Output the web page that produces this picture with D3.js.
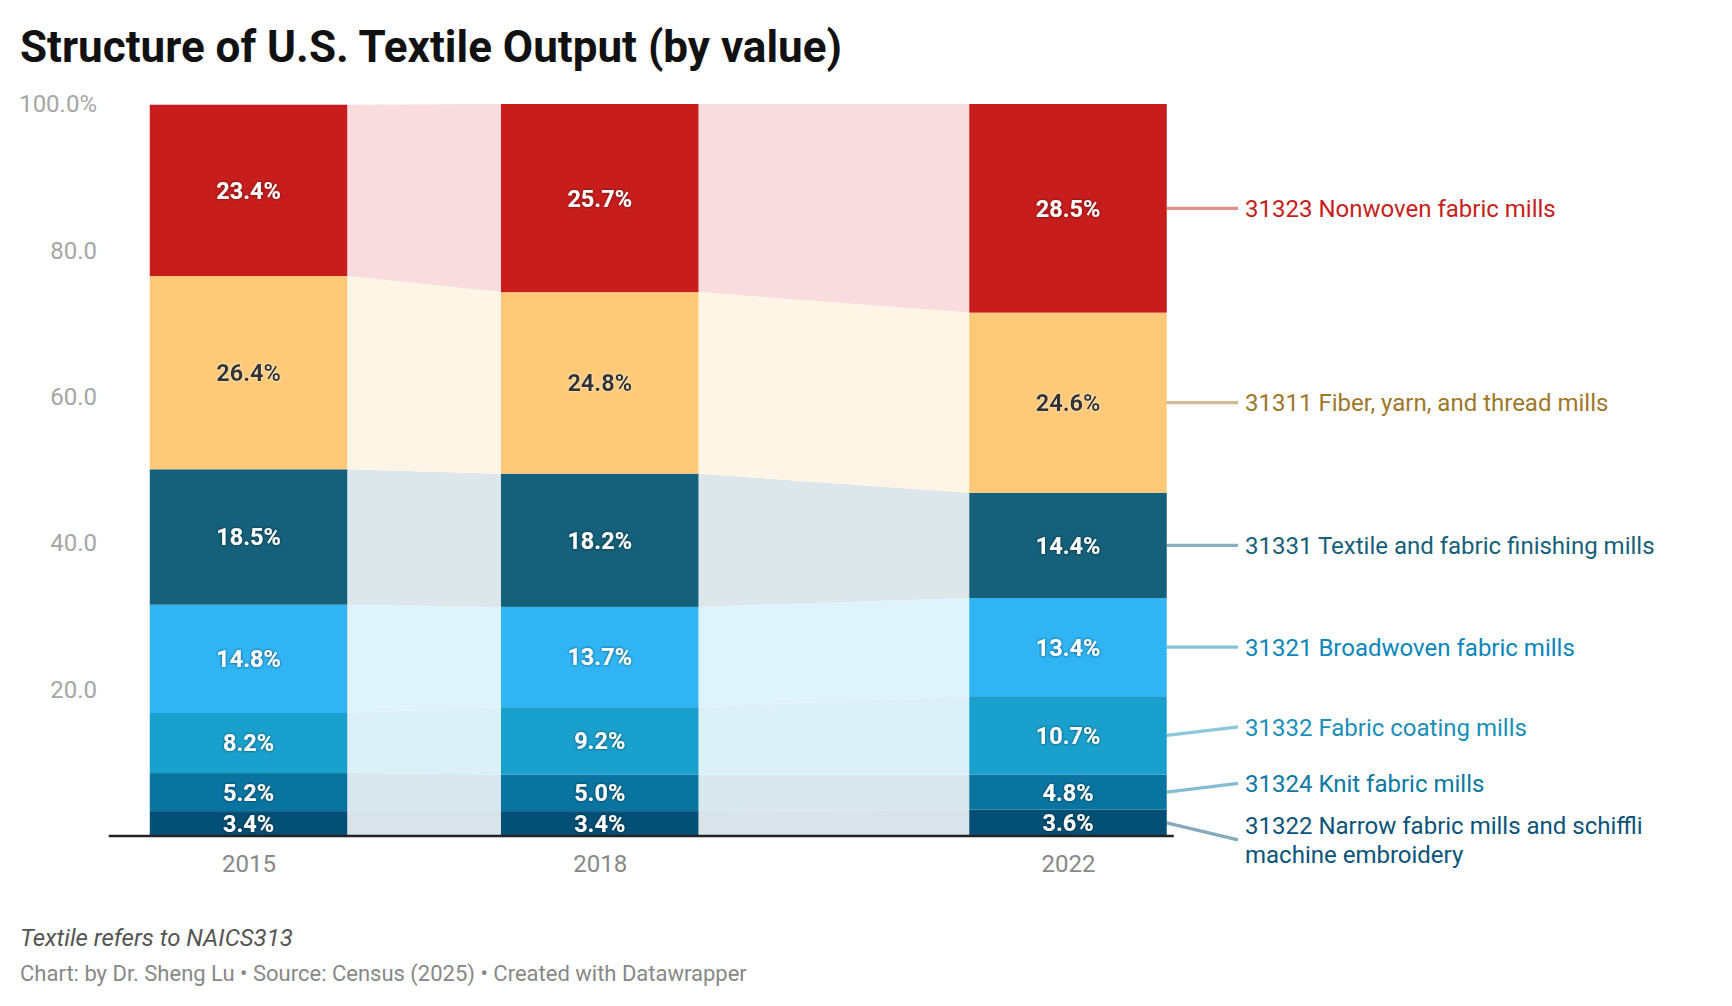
<!DOCTYPE html>
<html>
<head>
<meta charset="utf-8">
<script src="https://cdn.jsdelivr.net/npm/d3@7"></script>
<style>
body { margin: 0; background: #fff; }
svg { font-family: Roboto, "Noto Sans", sans-serif; }
</style>
</head>
<body>
<svg id="chart" width="1732" height="1006"></svg>
<script>

// ---- data (shares of output value, %), bottom of stack first ----
var years = [2015, 2018, 2022];
var seriesKeys = ["narrow", "knit", "coating", "broadwoven", "finishing", "fiber", "nonwoven"];
var seriesNames = [
	"31322 Narrow fabric mills and schiffli machine embroidery",
	"31324 Knit fabric mills",
	"31332 Fabric coating mills",
	"31321 Broadwoven fabric mills",
	"31331 Textile and fabric finishing mills",
	"31311 Fiber, yarn, and thread mills",
	"31323 Nonwoven fabric mills"
	];
var narrowShare     = [3.4, 3.4, 3.6];
var knitShare       = [5.2, 5.0, 4.8];
var coatingShare    = [8.2, 9.2, 10.7];
var broadwovenShare = [14.8, 13.7, 13.4];
var finishingShare  = [18.5, 18.2, 14.4];
var fiberShare      = [26.4, 24.8, 24.6];
var nonwovenShare   = [23.4, 25.7, 28.5];
var yTickValues = [20, 40, 60, 80, 100];

// ---- styles ----
var barColors   = ["#034f75", "#0a74a0", "#1aa0cd", "#30b4f3", "#15607a", "#ffc977", "#c71e1d"];
var bandColors  = ["#d9e4ea", "#d9e7ee", "#dcf0f7", "#dff3fc", "#dce6eb", "#fff5e6", "#f9dcde"];
var labelColors = ["#0a537a", "#0b79a3", "#1a8fb9", "#0a86ba", "#15607a", "#9f7728", "#c71e1d"];
var darkText    = [false, false, false, false, false, true, false];

var shares = [narrowShare, knitShare, coatingShare, broadwovenShare, finishingShare, fiberShare, nonwovenShare];

var table = years.map(function(yr, i) {
	var row = {year: yr};
	seriesKeys.forEach(function(k, s) { row[k] = shares[s][i]; });
	return row;
	});
var layers = d3.stack().keys(seriesKeys)(table);

var svg = d3.select("#chart");
var barW = 197.5;
var x = d3.scaleLinear().domain([2015, 2022]).range([248.5, 1068]);
var y = d3.scaleLinear().domain([0, 100]).range([836, 104]);

var defs = svg.append("defs");
var darkHalo = defs.append("filter").attr("id", "darkHalo").attr("x", "-20%").attr("y", "-40%").attr("width", "140%").attr("height", "180%");
darkHalo.append("feDropShadow").attr("dx", 0).attr("dy", 0).attr("stdDeviation", 1.8)
	.attr("flood-color", "#000").attr("flood-opacity", 0.6);
var lightHalo = defs.append("filter").attr("id", "lightHalo").attr("x", "-20%").attr("y", "-40%").attr("width", "140%").attr("height", "180%");
lightHalo.append("feDropShadow").attr("dx", 0).attr("dy", 0).attr("stdDeviation", 1.8)
	.attr("flood-color", "#fff").attr("flood-opacity", 0.8);

// title
svg.append("text")
	.attr("x", 20).attr("y", 62)
	.style("font-size", "44px").style("font-weight", 700).style("fill", "#111")
	.text("Structure of U.S. Textile Output (by value)");

// connecting bands between bars
var band = d3.area()
	.x(function(d) { return d.x; })
	.y0(function(d) { return y(d.seg[0]); })
	.y1(function(d) { return y(d.seg[1]); });

var bandG = svg.append("g");
layers.forEach(function(layer, s) {
	for (var j = 0; j < years.length - 1; j++) {
		var pts = [
			{x: x(years[j]) + barW / 2, seg: layer[j]},
			{x: x(years[j + 1]) - barW / 2, seg: layer[j + 1]}
			];
		bandG.append("path").attr("d", band(pts)).style("fill", bandColors[s]);
		}
	});

// bars
var barG = svg.append("g");
layers.forEach(function(layer, s) {
	barG.selectAll(null)
		.data(layer)
		.enter()
		.append("rect")
		.attr("x", function(d) { return x(d.data.year) - barW / 2; })
		.attr("y", function(d) { return y(d[1]); })
		.attr("width", barW)
		.attr("height", function(d) { return y(d[0]) - y(d[1]); })
		.style("fill", barColors[s]);
	});

// value labels
var valG = svg.append("g").style("font-size", "23.5px").style("font-weight", 700).attr("text-anchor", "middle");
layers.forEach(function(layer, s) {
	valG.selectAll(null)
		.data(layer)
		.enter()
		.append("text")
		.attr("x", function(d) { return x(d.data.year); })
		.attr("y", function(d) { return y((d[0] + d[1]) / 2); })
		.attr("dy", "0.36em")
		.style("fill", darkText[s] ? "#333" : "#fff")
		.attr("filter", darkText[s] ? "url(#lightHalo)" : "url(#darkHalo)")
		.text(function(d) { return d3.format(".1f")(d[1] - d[0]) + "%"; });
	});

// y axis
var yAxis = svg.append("g")
	.attr("transform", "translate(97,0)")
	.call(d3.axisLeft(y).tickValues(yTickValues).tickSize(0).tickPadding(0)
		.tickFormat(function(d) { return d === 100 ? "100.0%" : d3.format(".1f")(d); }));
yAxis.select(".domain").remove();
yAxis.selectAll("text").style("font-size", "24px").style("font-family", "Roboto, sans-serif").style("fill", "#a6a6a6");

// x axis
var xAxis = svg.append("g")
	.attr("transform", "translate(0," + y(0) + ")")
	.call(d3.axisBottom(x).tickValues(years).tickSize(0).tickPadding(19).tickFormat(d3.format("d")));
xAxis.select(".domain").remove();
xAxis.selectAll("text").style("font-size", "24px").style("font-family", "Roboto, sans-serif").style("fill", "#888");

svg.append("line")
	.attr("x1", x(years[0]) - barW / 2 - 41).attr("x2", x(years[years.length - 1]) + barW / 2 + 7)
	.attr("y1", y(0)).attr("y2", y(0))
	.style("stroke", "#222").style("stroke-width", 2.5);

// direct labels at the right, spread so they do not overlap
var last = years.length - 1;
var labels = layers.map(function(layer, s) {
	return {s: s, target: y((layer[last][0] + layer[last][1]) / 2)};
	}).sort(function(a, b) { return a.target - b.target; });

var minGap = 56.5;
var groups = labels.map(function(l) { return [l]; });
var merged = true;
function groupPos(g) {
	var mean = d3.mean(g, function(l) { return l.target; });
	return g.map(function(l, i) { return mean + (i - (g.length - 1) / 2) * minGap; });
	}
while (merged) {
	merged = false;
	for (var g = 0; g < groups.length - 1; g++) {
		var a = groupPos(groups[g]), b = groupPos(groups[g + 1]);
		if (b[0] - a[a.length - 1] < minGap) {
			groups.splice(g, 2, groups[g].concat(groups[g + 1]));
			merged = true;
			break;
			}
		}
	}
groups.forEach(function(g) {
	var p = groupPos(g);
	g.forEach(function(l, i) { l.y = p[i]; });
	});

var labelX = 1245, lineH = 28.5, maxW = 440;
var legG = svg.append("g");
labels.forEach(function(l) {
	var barRight = x(years[last]) + barW / 2;
	legG.append("line")
		.attr("x1", barRight).attr("y1", l.target)
		.attr("x2", labelX - 7).attr("y2", l.y)
		.style("stroke", labelColors[l.s]).style("stroke-opacity", 0.5).style("stroke-width", 3.2);

	var t = legG.append("text")
		.attr("x", labelX)
		.style("font-size", "24px").style("fill", labelColors[l.s]);
	// wrap words
	var words = seriesNames[l.s].split(" ");
	var lines = [];
	var cur = [];
	var probe = t.append("tspan");
	words.forEach(function(w) {
		var test = cur.concat([w]).join(" ");
		probe.text(test);
		if (probe.node().getComputedTextLength() > maxW && cur.length) {
			lines.push(cur.join(" "));
			cur = [w];
			}
		else cur.push(w);
		});
	lines.push(cur.join(" "));
	probe.remove();
	var firstY = l.y - (lines.length - 1) * lineH / 2;
	lines.forEach(function(txt, i) {
		t.append("tspan").attr("x", labelX).attr("y", firstY + i * lineH).attr("dy", "0.36em").text(txt);
		});
	});

// notes
svg.append("text")
	.attr("x", 20).attr("y", 946)
	.style("font-size", "24px").style("font-style", "italic").style("fill", "#555")
	.text("Textile refers to NAICS313");
svg.append("text")
	.attr("x", 20).attr("y", 981)
	.style("font-size", "22px").style("fill", "#888")
	.text("Chart: by Dr. Sheng Lu \u2022 Source: Census (2025) \u2022 Created with Datawrapper");

</script>
</body>
</html>
